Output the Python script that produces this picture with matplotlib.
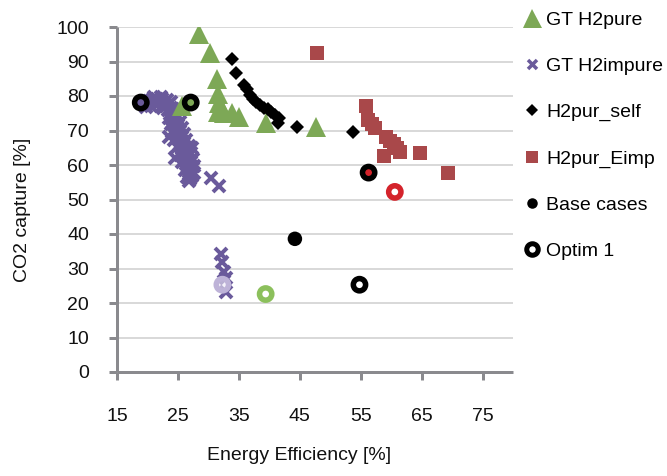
import matplotlib
matplotlib.use("Agg")
import matplotlib.pyplot as plt
from matplotlib.lines import Line2D

plt.rcParams["font.family"] = ["Liberation Sans", "DejaVu Sans"]
plt.rcParams["font.size"] = 14

# ---- data -------------------------------------------------------------
gt_pure_x = [25.7, 28.5, 30.2, 31.4, 31.6, 31.8, 31.5, 32.5, 33.8, 35.0, 39.5, 47.6]
gt_pure_y = [77.0, 98.0, 92.5, 85.0, 80.5, 78.0, 75.5, 75.0, 75.0, 74.0, 72.3, 71.0]

gt_impure_x = [19.8, 20.3, 20.8, 21.2, 21.6, 22.0, 22.4, 22.8, 23.2, 23.5, 22.6, 21.4,
               20.0, 20.6, 21.0, 21.8, 22.2, 23.0, 23.9, 22.5,
               23.8, 24.1, 23.7, 24.3, 24.0, 24.6, 24.3, 24.9, 24.5, 25.2, 24.8, 25.5,
               25.1, 25.7, 25.3, 26.0, 25.6, 26.2, 25.9, 26.5, 26.1, 26.8, 26.4, 27.0,
               26.6, 27.2, 26.8, 27.3, 27.0, 23.6, 27.3, 24.6,
               24.2, 25.0, 25.3, 25.6, 26.0, 26.4, 26.8, 27.1, 27.4, 27.6, 27.6,
               23.3, 23.5, 23.8, 24.1, 24.4, 24.9, 25.3, 25.7, 26.1, 26.5, 26.8,
               30.4, 31.7, 32.0, 32.2, 32.5, 32.9, 32.9]
gt_impure_y = [76.8, 78.5, 78.9, 78.2, 79.0, 78.6, 79.1, 78.4, 78.8, 77.6, 77.4, 77.6,
               78.0, 77.2, 79.6, 77.8, 79.6, 77.0, 78.2, 76.6,
               76.4, 75.3, 74.8, 74.0, 73.2, 72.6, 71.5, 71.0, 70.2, 69.6, 68.8, 68.2,
               67.4, 66.8, 66.0, 65.5, 64.6, 64.0, 63.1, 62.5, 61.7, 61.2, 60.3, 59.8,
               58.9, 58.3, 57.5, 56.7, 56.0, 68.0, 64.8, 62.0,
               76.2, 74.2, 72.5, 70.8, 69.0, 67.2, 65.4, 63.5, 61.6, 59.6, 57.6,
               76.0, 73.5, 71.8, 69.5, 67.2, 65.3, 63.0, 60.8, 58.6, 56.6, 55.5,
               56.3, 54.0, 34.3, 32.0, 29.0, 27.3, 23.2]

self_x = [33.9, 34.5, 35.8, 36.3, 36.8, 37.3, 37.8, 38.4, 39.1, 39.8, 40.2, 40.9,
          41.6, 41.4, 44.5, 53.7]
self_y = [90.6, 86.8, 83.3, 81.9, 80.4, 79.2, 78.4, 77.5, 76.6, 76.1, 75.5, 74.6,
          73.7, 72.3, 71.1, 69.7]

eimp_x = [47.8, 55.8, 56.2, 56.8, 57.3, 59.2, 59.8, 60.5, 61.0, 61.5, 58.8, 64.7, 69.4]
eimp_y = [92.6, 77.2, 73.0, 71.8, 70.8, 68.0, 67.0, 66.0, 65.0, 63.8, 62.7, 63.5, 57.8]

base_x = [18.9, 27.1, 56.3, 44.2]
base_y = [78.1, 78.1, 57.8, 38.6]
base_colors = ["#6A5A9B", "#7FA956", "#D4232B", "#000000"]

optim_x = [18.9, 27.1, 56.3, 54.8, 60.6, 39.4, 32.3]
optim_y = [78.1, 78.1, 57.8, 25.3, 52.2, 22.6, 25.3]
optim_edges = ["#000000", "#000000", "#000000", "#000000", "#D4232B", "#8CC05C", "#BEB3D8"]
optim_faces = ["none", "none", "none", "#FFFFFF", "#FFFFFF", "#FFFFFF", (0.93, 0.91, 0.97, 0.6)]

x_ticks = [15, 25, 35, 45, 55, 65, 75]
y_ticks = [0, 10, 20, 30, 40, 50, 60, 70, 80, 90, 100]

GREEN = "#7DA856"
PURPLE = "#6A5A9B"
DARKRED = "#A9484A"
AXIS_GREY = "#8A8A8E"
PT = 72 / 100  # points per pixel at dpi=100

# ---- figure -----------------------------------------------------------
fig = plt.figure(figsize=(6.67, 4.76), dpi=100)
ax = fig.add_axes([117 / 667, 1 - 372 / 476, (513 - 117) / 667, (372 - 27) / 476])

ax.set_xlim(15, 80)
ax.set_ylim(0, 100)
ax.set_xticks(x_ticks)
ax.set_yticks(y_ticks)

ax.grid(axis="y", color="#D9D9D9", linewidth=2 * PT, zorder=0)
ax.set_axisbelow(True)
for side in ("top", "right"):
    ax.spines[side].set_visible(False)
for side in ("left", "bottom"):
    ax.spines[side].set_color(AXIS_GREY)
    ax.spines[side].set_linewidth(3 * PT)
    ax.spines[side].set_capstyle("butt")
ax.tick_params(axis="both", direction="out", color=AXIS_GREY, width=3 * PT,
               length=8 * PT, labelsize=14, labelcolor="#111111")
ax.tick_params(axis="x", pad=28 * PT)
ax.tick_params(axis="y", pad=20 * PT)

ax.plot(gt_impure_x, gt_impure_y, linestyle="none", marker="x", markersize=11.5 * PT,
        color=PURPLE, markeredgewidth=4 * PT, zorder=3, label="GT H2impure")
ax.plot(gt_pure_x, gt_pure_y, linestyle="none", marker="^", markersize=20 * PT,
        color=GREEN, markeredgewidth=0, zorder=4, label="GT H2pure")
ax.plot(self_x, self_y, linestyle="none", marker="D", markersize=10.5 * PT,
        color="#000000", markeredgewidth=0, zorder=5, label="H2pur_self")
ax.plot(eimp_x, eimp_y, linestyle="none", marker="s", markersize=14.5 * PT,
        color=DARKRED, markeredgewidth=0, zorder=6, label="H2pur_Eimp")

ax.scatter(base_x, base_y, s=(14.5 * PT) ** 2, c=base_colors, linewidths=0,
           marker="o", zorder=7)
ax.scatter(optim_x, optim_y, s=(12.3 * PT) ** 2, facecolors=optim_faces,
           edgecolors=optim_edges, linewidths=5.5 * PT, marker="o", zorder=8)

# legend entries
handles = [
    Line2D([], [], linestyle="none", marker="^", markersize=19 * PT, color=GREEN,
           markeredgewidth=0),
    Line2D([], [], linestyle="none", marker="x", markersize=9 * PT, color=PURPLE,
           markeredgewidth=3.5 * PT),
    Line2D([], [], linestyle="none", marker="D", markersize=9 * PT, color="#000000",
           markeredgewidth=0),
    Line2D([], [], linestyle="none", marker="s", markersize=12 * PT, color=DARKRED,
           markeredgewidth=0),
    Line2D([], [], linestyle="none", marker="o", markersize=10.5 * PT, color="#000000",
           markeredgewidth=0),
    Line2D([], [], linestyle="none", marker="o", markersize=11.5 * PT,
           markerfacecolor="#FFFFFF", markeredgecolor="#000000",
           markeredgewidth=5 * PT),
]
labels = ["GT H2pure", "GT H2impure", "H2pur_self", "H2pur_Eimp", "Base cases", "Optim 1"]
fig.legend(handles, labels, loc="upper left", bbox_to_anchor=(522 / 667, 1 - 11 / 476),
           frameon=False, borderpad=0, borderaxespad=0, handlelength=1.0,
           handletextpad=0.25, labelspacing=1.47, fontsize=14)

fig.text(299 / 667, 1 - 456 / 476, "Energy Efficiency [%]", ha="center", va="center",
         fontsize=14, color="#111111")
fig.text(23 / 667, 1 - 210 / 476, "CO2 capture [%]", ha="center", va="center",
         rotation=90, fontsize=14, color="#111111")

fig.savefig("out.png", dpi=100, facecolor="white")
